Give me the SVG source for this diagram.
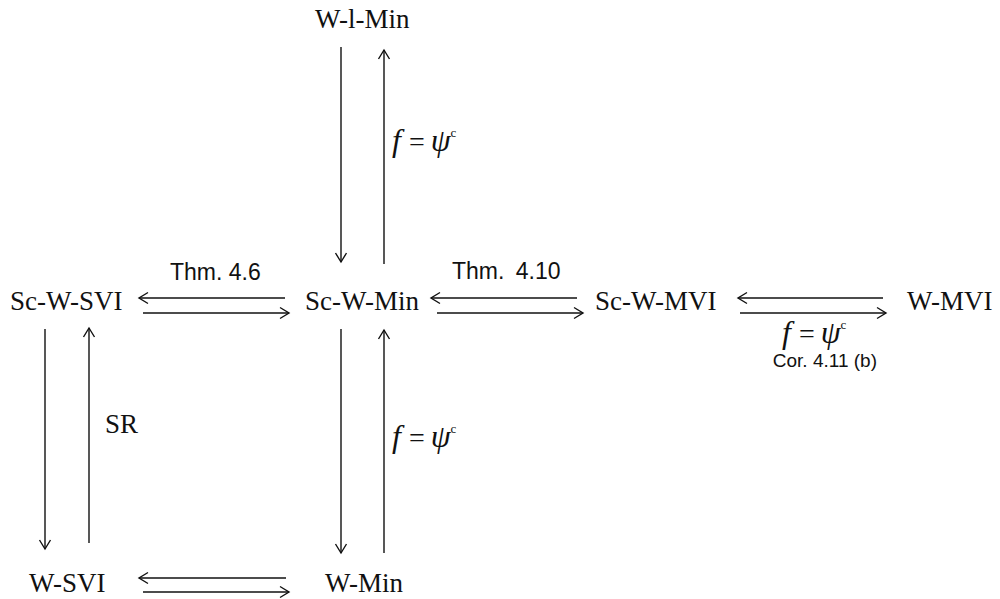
<svg xmlns="http://www.w3.org/2000/svg" width="1000" height="599" viewBox="0 0 1000 599">
<style>
.n{font-family:"Liberation Serif","Times New Roman",serif;font-size:27px;fill:#111}
.l{font-family:"Liberation Sans",Arial,sans-serif;fill:#111}
.m{font-family:"Liberation Serif","Times New Roman",serif;font-size:28px;fill:#111}
.m .v{font-style:italic;font-size:32px}
.m .s{font-size:13px}
.e line{stroke:#111;stroke-width:1.4;marker-end:url(#ah)}
</style>
<defs>
<marker id="ah" viewBox="-11 -7 13 14" refX="0" refY="0" markerWidth="13" markerHeight="14" markerUnits="userSpaceOnUse" orient="auto">
<path d="M-9,-5.5 L0,0 L-9,5.5" fill="none" stroke="#111" stroke-width="1.4"/>
</marker>
</defs>
<rect width="1000" height="599" fill="#fff"/>
<g id="connectors" class="e">
<line x1="341" y1="47" x2="341" y2="262"/>
<line x1="384" y1="264" x2="384" y2="50"/>
<line x1="341" y1="329" x2="341" y2="553"/>
<line x1="384" y1="553" x2="384" y2="330"/>
<line x1="45" y1="329" x2="45" y2="549"/>
<line x1="89" y1="543" x2="89" y2="328"/>
<line x1="285" y1="298" x2="139" y2="298"/>
<line x1="143" y1="313" x2="289" y2="313"/>
<line x1="577" y1="298" x2="431" y2="298"/>
<line x1="437" y1="313" x2="583" y2="313"/>
<line x1="883" y1="298" x2="738" y2="298"/>
<line x1="740" y1="313" x2="886" y2="313"/>
<line x1="286" y1="578" x2="139" y2="578"/>
<line x1="143" y1="592" x2="289" y2="592"/>
</g>
<g id="labels">
<text class="l" x="170" y="280" font-size="23">Thm. 4.6</text>
<text class="l" x="452" y="279" font-size="23" word-spacing="5">Thm. 4.10</text>
<text class="n" x="105" y="433" font-size="24">SR</text>
<text class="m" x="392" y="151"><tspan class="v">f</tspan><tspan dx="8">=</tspan><tspan class="v" dx="6">ψ</tspan><tspan class="s" dy="-14">c</tspan></text>
<text class="m" x="392" y="447"><tspan class="v">f</tspan><tspan dx="8">=</tspan><tspan class="v" dx="6">ψ</tspan><tspan class="s" dy="-14">c</tspan></text>
<text class="m" x="782" y="343"><tspan class="v">f</tspan><tspan dx="8">=</tspan><tspan class="v" dx="6">ψ</tspan><tspan class="s" dy="-14">c</tspan></text>
<text class="l" x="877" y="367" font-size="19" text-anchor="end">Cor. 4.11 (b)</text>
</g>
<g id="n-wlmin"><text class="n" x="315" y="28">W-l-Min</text></g>
<g id="n-scwsvi"><text class="n" x="10" y="310">Sc-W-SVI</text></g>
<g id="n-scwmin"><text class="n" x="305" y="310">Sc-W-Min</text></g>
<g id="n-scwmvi"><text class="n" x="595" y="310">Sc-W-MVI</text></g>
<g id="n-wmvi"><text class="n" x="907" y="310">W-MVI</text></g>
<g id="n-wsvi"><text class="n" x="29" y="592">W-SVI</text></g>
<g id="n-wmin"><text class="n" x="325" y="592">W-Min</text></g>
</svg>
